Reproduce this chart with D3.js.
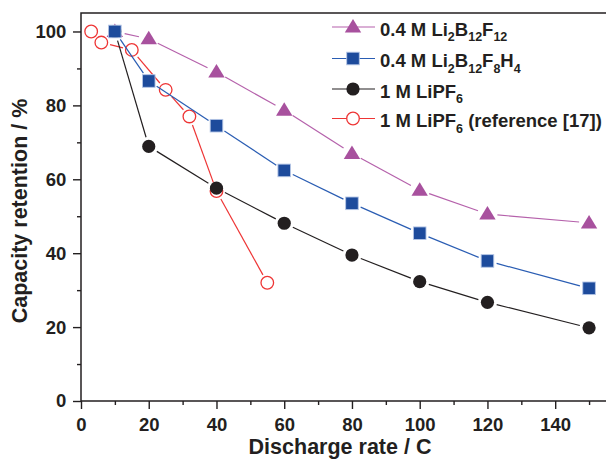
<!DOCTYPE html>
<html>
<head>
<meta charset="utf-8">
<script src="https://cdn.jsdelivr.net/npm/d3@7/dist/d3.min.js"></script>
<style>
  html, body { margin: 0; padding: 0; background: #fff; }
  svg { display: block; font-family: "Liberation Sans", Arial, Helvetica, sans-serif; font-weight: bold; }
</style>
</head>
<body>
<svg id="chart" width="606" height="460"></svg>
<script>
// Discharge rate (C) and capacity retention (%) for each electrolyte
const ratesMain = [10, 20, 40, 60, 80, 100, 120, 150];
const retentionB12F12 = [100, 98, 89, 78.7, 67, 57, 50.6, 48.2];
const retentionB12F8H4 = [100, 86.6, 74.5, 62.4, 53.5, 45.4, 37.9, 30.5];
const retentionLiPF6 = [100, 68.9, 57.6, 48.1, 39.5, 32.3, 26.7, 19.8];
const ratesRef = [3, 6, 15, 25, 32, 40, 55];
const retentionRef = [100, 97, 95, 84.2, 77, 56.8, 32];

const xMajorTicks = [0, 20, 40, 60, 80, 100, 120, 140];
const xMinorTicks = [10, 30, 50, 70, 90, 110, 130, 150];
const yMajorTicks = [0, 20, 40, 60, 80, 100];
const yMinorTicks = [10, 30, 50, 70, 90];

const ink = "#231f20";
const svg = d3.select("#chart");

const x = d3.scaleLinear().domain([0, 155]).range([81, 606]);
const y = d3.scaleLinear().domain([0, 105]).range([401, 13]);

// Tick marks and labels
function drawXAxis(values, size, labels) {
  const ax = d3.axisBottom(x).tickValues(values).tickSize(size).tickSizeOuter(0)
    .tickFormat(labels ? d3.format("d") : "");
  const g = svg.append("g").attr("transform", `translate(0,${y(0)})`).call(ax);
  g.select(".domain").remove();
  g.selectAll(".tick line").attr("stroke", ink).attr("stroke-width", 1.4);
  g.selectAll(".tick text").attr("fill", ink).attr("font-size", 18.5)
    .attr("font-family", "Liberation Sans, Arial, sans-serif").attr("font-weight", "bold").attr("dy", "1.05em");
}
function drawYAxis(values, size, labels) {
  const ax = d3.axisLeft(y).tickValues(values).tickSize(size).tickSizeOuter(0)
    .tickFormat(labels ? d3.format("d") : "");
  const g = svg.append("g").attr("transform", `translate(${x(0)},0)`).call(ax);
  g.select(".domain").remove();
  g.selectAll(".tick line").attr("stroke", ink).attr("stroke-width", 1.4);
  g.selectAll(".tick text").attr("fill", ink).attr("font-size", 18.5)
    .attr("font-family", "Liberation Sans, Arial, sans-serif").attr("font-weight", "bold").attr("dx", "-0.2em");
}
drawXAxis(xMajorTicks, 8, true);
drawXAxis(xMinorTicks, 4, false);
drawYAxis(yMajorTicks, 8, true);
drawYAxis(yMinorTicks, 4, false);

// Frame: left, top and bottom edges
svg.append("path")
  .attr("d", `M${x(155)},${y(105)}H${x(0)}V${y(0)}H${x(155)}`)
  .attr("fill", "none").attr("stroke", ink).attr("stroke-width", 1.5);

// Axis titles
svg.append("text").attr("x", 340).attr("y", 454).attr("text-anchor", "middle")
  .attr("font-size", 21.5).attr("fill", ink).text("Discharge rate / C");
svg.append("text").attr("transform", "translate(27,211) rotate(-90)").attr("text-anchor", "middle")
  .attr("font-size", 21.5).attr("fill", ink).text("Capacity retention / %");

// Marker shapes
const tri = "M0,-8L8.2,5.5L-8.2,5.5Z";
function drawMarker(g, kind, cx, cy, s) {
  if (kind === "triangle") {
    g.append("path").attr("d", tri).attr("transform", `translate(${cx},${cy})`).attr("fill", s.fill);
  } else if (kind === "square") {
    g.append("rect").attr("x", cx - 6.3).attr("y", cy - 6.3).attr("width", 12.6).attr("height", 12.6)
      .attr("fill", s.fill).attr("stroke", "#b5c6e6").attr("stroke-width", 0.9);
  } else if (kind === "circle") {
    g.append("circle").attr("cx", cx).attr("cy", cy).attr("r", 6.6).attr("fill", s.fill);
  } else {
    g.append("circle").attr("cx", cx).attr("cy", cy).attr("r", 6.3)
      .attr("fill", "none").attr("stroke", s.fill).attr("stroke-width", 1.3);
  }
}

// Line segments stop short of the markers, leaving a small gap
function drawSeries(xs, ys, s) {
  const g = svg.append("g");
  const pts = xs.map((d, i) => [x(d), y(ys[i])]);
  for (let i = 0; i < pts.length - 1; i++) {
    const [x1, y1] = pts[i], [x2, y2] = pts[i + 1];
    const len = Math.hypot(x2 - x1, y2 - y1);
    const trim = s.gap;
    if (len <= 2 * trim) continue;
    const ux = (x2 - x1) / len, uy = (y2 - y1) / len;
    g.append("line")
      .attr("x1", x1 + ux * trim).attr("y1", y1 + uy * trim)
      .attr("x2", x2 - ux * trim).attr("y2", y2 - uy * trim)
      .attr("stroke", s.line).attr("stroke-width", 1.2);
  }
  pts.forEach(([cx, cy]) => drawMarker(g, s.kind, cx, cy, s));
}

const styles = {
  ref:   { kind: "open",     fill: "#ee3535", line: "#ee3535", gap: 9 },
  f12:   { kind: "triangle", fill: "#a8519e", line: "#b561ab", gap: 10 },
  lipf6: { kind: "circle",   fill: "#231f20", line: "#231f20", gap: 9.5 },
  f8h4:  { kind: "square",   fill: "#1d4b9c", line: "#2a5db3", gap: 9.5 }
};

drawSeries(ratesRef, retentionRef, styles.ref);
drawSeries(ratesMain, retentionB12F12, styles.f12);
drawSeries(ratesMain, retentionLiPF6, styles.lipf6);
drawSeries(ratesMain, retentionB12F8H4, styles.f8h4);

// Legend with subscripted formulas
const legendItems = [
  { style: styles.f12,   parts: [["0.4 M Li"], ["2", 1], ["B"], ["12", 1], ["F"], ["12", 1]] },
  { style: styles.f8h4,  parts: [["0.4 M Li"], ["2", 1], ["B"], ["12", 1], ["F"], ["8", 1], ["H"], ["4", 1]] },
  { style: styles.lipf6, parts: [["1 M LiPF"], ["6", 1]] },
  { style: styles.ref,   parts: [["1 M LiPF"], ["6", 1], [" (reference [17])"]] }
];
const legendRows = [27, 58.5, 89, 118.5];
legendItems.forEach((item, i) => {
  const cy = legendRows[i];
  const g = svg.append("g");
  g.append("line").attr("x1", 332).attr("x2", 375).attr("y1", cy).attr("y2", cy)
    .attr("stroke", item.style.line).attr("stroke-width", 1.2);
  if (item.style.kind === "open") {
    g.append("circle").attr("cx", 353).attr("cy", cy).attr("r", 6.3)
      .attr("fill", "#fff").attr("stroke", item.style.fill).attr("stroke-width", 1.3);
  } else {
    drawMarker(g, item.style.kind, 353, cy, item.style);
  }
  const t = g.append("text").attr("x", 380).attr("y", cy + 8.5).attr("font-size", 18.5).attr("fill", ink);
  let sub = false;
  item.parts.forEach(([str, isSub]) => {
    const ts = t.append("tspan").text(str);
    if (isSub && !sub) { ts.attr("font-size", 12.5).attr("dy", 5.5); sub = true; }
    else if (isSub) { ts.attr("font-size", 12.5); }
    else if (sub) { ts.attr("dy", -5.5); sub = false; }
  });
});
</script>
</body>
</html>
